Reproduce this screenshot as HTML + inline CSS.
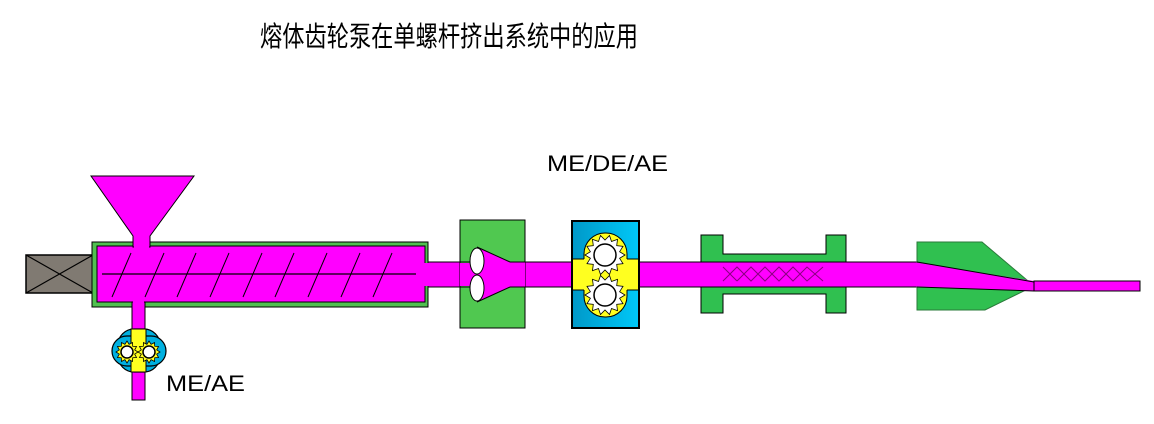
<!DOCTYPE html>
<html><head><meta charset="utf-8"><style>
html,body{margin:0;padding:0;background:#fff;width:1154px;height:424px;overflow:hidden}
svg{display:block}
</style></head><body>
<svg id="s" width="1154" height="424" viewBox="0 0 1154 424" xmlns="http://www.w3.org/2000/svg">
<defs>
<linearGradient id="bl" x1="0" x2="1" y1="0" y2="0"><stop offset="0" stop-color="#0098c8"/><stop offset="1" stop-color="#00c8f8"/></linearGradient>
</defs>
<text x="260" y="46" font-family="'Noto Sans CJK SC','WenQuanYi Zen Hei',sans-serif" font-size="28" textLength="378" lengthAdjust="spacingAndGlyphs" fill="#000">熔体齿轮泵在单螺杆挤出系统中的应用</text>
<text x="547" y="171" font-family="'Liberation Sans',sans-serif" font-size="22" textLength="121" lengthAdjust="spacingAndGlyphs" fill="#000">ME/DE/AE</text>
<text x="166" y="391" font-family="'Liberation Sans',sans-serif" font-size="22" textLength="79" lengthAdjust="spacingAndGlyphs" fill="#000">ME/AE</text>

<!-- motor -->
<rect x="26" y="255" width="67" height="38" fill="#807a72" stroke="#000" stroke-width="1.5"/>
<path d="M26 255L93 293M93 255L26 293" stroke="#000" stroke-width="1.2"/>

<!-- main pipe -->
<rect x="420" y="262" width="500" height="25" fill="#ff00ff" stroke="#000" stroke-width="1"/>

<!-- barrel -->
<rect x="92" y="242" width="336" height="65" fill="#50c050" stroke="#000" stroke-width="1"/>
<rect x="97" y="246" width="328" height="56" fill="#ff00ff" stroke="#000" stroke-width="1"/>
<rect x="424" y="263" width="8" height="23" fill="#ff00ff"/>
<!-- hopper -->
<path d="M91 176L194 176L150 236L150 247L133 247L133 236Z" fill="#ff00ff" stroke="#000" stroke-width="1"/>
<rect x="134" y="240" width="15" height="8" fill="#ff00ff"/>
<!-- screw -->
<line x1="102" y1="274" x2="416" y2="274" stroke="#000" stroke-width="1.2"/>
<g stroke="#000" stroke-width="1">
<path d="M112 297L131 253M145 297L164 253M177 297L196 253M210 297L229 253M243 297L262 253M275 297L294 253M308 297L327 253M341 297L360 253M373 297L392 253"/>
</g>
<!-- down pipe -->
<rect x="132" y="302" width="13" height="98" fill="#ff00ff" stroke="#000" stroke-width="1"/>
<rect x="133" y="300" width="11" height="5" fill="#ff00ff"/>
<!-- small pump -->
<rect x="118" y="329" width="42" height="43" rx="16" fill="#00b0e0" stroke="#000" stroke-width="1.2"/>
<rect x="112" y="336" width="54" height="30" rx="15" fill="#00b0e0" stroke="#000" stroke-width="1.2"/>
<rect x="131" y="329" width="15" height="43" fill="#ffff20" stroke="#000" stroke-width="1"/>
<g id="sg"></g>

<!-- green block with ellipses -->
<rect x="460" y="220" width="65" height="108" fill="#50c850" stroke="#000" stroke-width="1"/>
<rect x="460" y="263" width="65" height="23" fill="#ff00ff"/>
<path d="M477 247L510 262L525 262L525 287L510 287L477 302Z" fill="#ff00ff"/>
<line x1="460" y1="262" x2="470" y2="262" stroke="#000"/><line x1="460" y1="287" x2="470" y2="287" stroke="#000"/>
<line x1="477" y1="247" x2="510" y2="262" stroke="#000"/><line x1="477" y1="302" x2="510" y2="287" stroke="#000"/>
<line x1="510" y1="262" x2="525" y2="262" stroke="#000"/><line x1="510" y1="287" x2="525" y2="287" stroke="#000"/>
<ellipse cx="477" cy="261" rx="7" ry="13" fill="#fff" stroke="#000"/>
<ellipse cx="477" cy="288" rx="7" ry="13" fill="#fff" stroke="#000"/>

<!-- gear pump -->
<rect x="572" y="221" width="67" height="107" fill="url(#bl)" stroke="#000" stroke-width="2"/>
<rect x="584" y="233" width="43" height="84" rx="21" fill="#ffff20" stroke="#000" stroke-width="1"/>
<rect x="573" y="259" width="65" height="31" fill="#ffff20"/>
<path d="M573 259H584M627 259H638M573 290H584M627 290H638" stroke="#000"/>
<g id="bg"></g>

<!-- heater -->
<path d="M701 235H723V254H826V235H846V262H701Z" fill="#30c050" stroke="#000" stroke-width="1"/>
<path d="M701 287H846V313H826V294H723V313H701Z" fill="#30c050" stroke="#000" stroke-width="1"/>
<path d="M723 281L737 267L751 281L765 267L779 281L793 267L807 281L823 267M737 281L751 267L765 281L779 267L793 281L807 267L823 281M723 267L737 281" fill="none" stroke="#8a0080" stroke-width="1"/>

<!-- die -->
<path d="M917 242H982L1034 286L985 310H917Z" fill="#30c050" stroke="#2a7a3a" stroke-width="1"/>
<path d="M916 262.5L1034 281L1034 291L916 286.5Z" fill="#ff00ff"/>
<path d="M917 262L1034 282M917 287L1034 291" stroke="#000" stroke-width="1"/>
<rect x="1034" y="281" width="106" height="10" fill="#ff00ff" stroke="#000" stroke-width="1"/>
</svg>
<script>
function gear(cx,cy,ro,ri,n,hole,fill){
 let p=[];for(let i=0;i<n*2;i++){let a=i*Math.PI/n;let r=i%2?ri:ro;p.push((cx+r*Math.cos(a)).toFixed(1)+','+(cy+r*Math.sin(a)).toFixed(1));}
 return `<polygon points="${p.join(' ')}" fill="${fill}" stroke="#000" stroke-width="0.8"/><circle cx="${cx}" cy="${cy}" r="${hole}" fill="#fff" stroke="#000" stroke-width="1.5"/>`;
}
document.getElementById('bg').innerHTML=gear(605,255,20,15,14,11,'#fff')+gear(605,295,20,15,14,11,'#fff');
document.getElementById('sg').innerHTML=gear(127,352,11,8,12,6,'#ffff20')+gear(149,352,11,8,12,6,'#ffff20');
</script>
</body></html>
